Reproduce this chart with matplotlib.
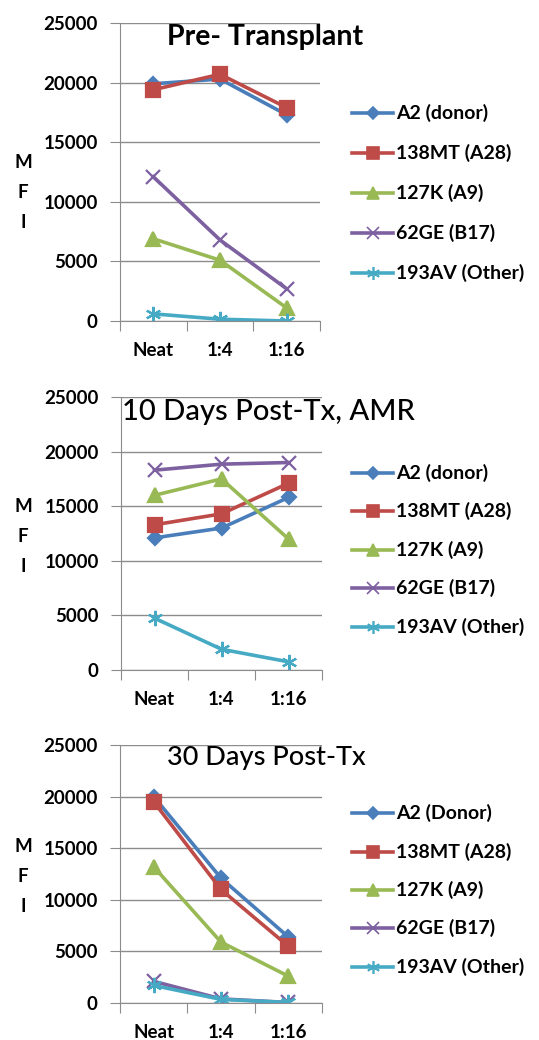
import matplotlib
matplotlib.use('Agg')
import matplotlib.pyplot as plt
from matplotlib.ticker import FixedLocator

plt.rcParams['font.family'] = ['Lato', 'DejaVu Sans']

dilutions = ['Neat', '1:4', '1:16']
series_names = ['A2 (donor)', '138MT (A28)', '127K (A9)', '62GE (B17)', '193AV (Other)']
series_names_30 = ['A2 (Donor)', '138MT (A28)', '127K (A9)', '62GE (B17)', '193AV (Other)']

# MFI values, one list per series
pre_a2 = [19900, 20300, 17300]
pre_138mt = [19400, 20700, 17900]
pre_127k = [6900, 5100, 1100]
pre_62ge = [12100, 6800, 2700]
pre_193av = [600, 150, 0]

d10_a2 = [12100, 13000, 15800]
d10_138mt = [13300, 14300, 17100]
d10_127k = [16000, 17500, 12000]
d10_62ge = [18300, 18850, 19000]
d10_193av = [4750, 1900, 750]

d30_a2 = [20000, 12100, 6400]
d30_138mt = [19500, 11000, 5500]
d30_127k = [13200, 5900, 2600]
d30_62ge = [2100, 400, 50]
d30_193av = [1700, 350, 50]

colors = ['#4A7EBB', '#BE4B48', '#98B954', '#7D60A0', '#46AAC5']
markers = ['D', 's', '^', 'x', (6, 2, 0)]
msizes = [7, 10, 10, 10, 11]

panels = [
 ('Pre- Transplant', [pre_a2, pre_138mt, pre_127k, pre_62ge, pre_193av], series_names,
  [120, 320, 23, 321], (265, 37), 20.5, 'bold', [113, 153, 193, 233, 273], 193),
 ('10 Days Post-Tx, AMR', [d10_a2, d10_138mt, d10_127k, d10_62ge, d10_193av], series_names,
  [121, 322, 397, 670], (268, 412), 21, 'medium', [473, 511, 550, 588, 627], 537),
 ('30 Days Post-Tx', [d30_a2, d30_138mt, d30_127k, d30_62ge, d30_193av], series_names_30,
  [120, 322, 745, 1003], (266, 758), 19.5, 'medium', [813, 852, 890, 928, 967], 877),
]

W, H = 539, 1040
fig = plt.figure(figsize=(W / 100, H / 100), dpi=100)

for title, data, names, box, tpos, tsize, tweight, legy, fy in panels:
 x0, x1, y0, y1 = box
 ax = fig.add_axes([x0 / W, 1 - y1 / H, (x1 - x0) / W, (y1 - y0) / H])
 xs = list(range(len(dilutions)))
 for vals, name, c, m, ms in zip(data, names, colors, markers, msizes):
  ax.plot(xs, vals, color=c, lw=2.6, marker=m, markersize=ms, markeredgewidth=1.6,
          markeredgecolor=c, markerfacecolor=c, label=name)
 ax.set_xlim(-0.5, 2.5)
 ax.set_ylim(0, 25000)
 ax.set_yticks(range(0, 25001, 5000))
 ax.grid(axis='y', color='#8c8c8c', lw=1)
 ax.set_axisbelow(True)
 for s in ['top', 'right']:
  ax.spines[s].set_visible(False)
 for s in ['left', 'bottom']:
  ax.spines[s].set_color('#8c8c8c')
 ax.xaxis.set_major_locator(FixedLocator([-0.5, 0.5, 1.5, 2.5]))
 ax.xaxis.set_minor_locator(FixedLocator(xs))
 ax.set_xticklabels([])
 ax.set_xticklabels(dilutions, minor=True, fontsize=13.5, fontweight='bold')
 ax.tick_params(axis='x', which='major', length=7, color='#8c8c8c')
 ax.tick_params(axis='x', which='minor', length=0, pad=15)
 ax.tick_params(axis='y', length=7, color='#8c8c8c', pad=9, labelsize=13.5)
 for lab in ax.get_yticklabels():
  lab.set_fontweight('bold')
 fig.text(tpos[0] / W, 1 - tpos[1] / H, title, ha='center', va='center',
          fontsize=tsize, fontweight=tweight)
 # stacked MFI axis title
 for k, ch in enumerate('MFI'):
  fig.text(23 / W, 1 - (fy + (k - 1) * 30) / H, ch, ha='center', va='center',
           fontsize=13.5, fontweight='bold')
 # legend rows
 handles, labels = ax.get_legend_handles_labels()
 for h, lab, ly in zip(handles, labels, legy):
  yy = 1 - ly / H
  fig.lines.append(plt.Line2D([352 / W, 393 / W], [yy, yy], transform=fig.transFigure,
                              color=h.get_color(), lw=2.6))
  fig.lines.append(plt.Line2D([372.5 / W], [yy], transform=fig.transFigure,
                              color=h.get_color(), marker=h.get_marker(),
                              markersize=h.get_markersize() * 0.85, markeredgewidth=1.2))
  fig.text(396 / W, yy, lab, ha='left', va='center', fontsize=14, fontweight='bold')

fig.savefig('out.png', dpi=100)
